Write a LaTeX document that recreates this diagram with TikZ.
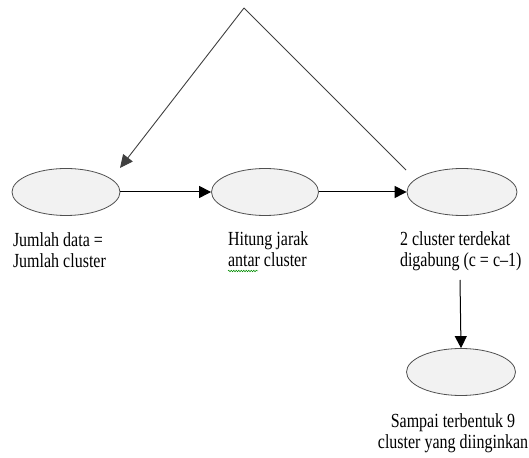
\documentclass[tikz,border=0pt]{standalone}
\usepackage{fontspec}
\usepackage{graphicx}
\setmainfont{Liberation Serif}
\usetikzlibrary{arrows.meta,decorations.pathmorphing,shapes.geometric}
\definecolor{ellfill}{HTML}{F2F2F2}
\definecolor{ellline}{HTML}{505050}
\definecolor{diagline}{HTML}{404040}
\newcommand{\lbltxt}[2]{\scalebox{0.8}[1]{\fontsize{20}{21}\selectfont\begin{tabular}[t]{@{}#1@{}}#2\end{tabular}}}
\begin{document}
\begin{tikzpicture}[x=1pt,y=1pt,
  stepell/.style={ellipse,draw=ellline,fill=ellfill,line width=0.8pt,minimum width=108pt,minimum height=47pt,inner sep=0pt},
  flowarr/.style={-{Triangle[length=12pt,width=12pt]},line width=1pt,black},
  backline/.style={line width=0.9pt,diagline},
  lbl/.style={inner sep=0pt,outer sep=0pt,font=\fontsize{20}{21}\selectfont}]
\useasboundingbox (0,0) rectangle (529,457);
\node[stepell] (e1) at (66,265) {};
\node[stepell,minimum width=107pt] (e2) at (265,265) {};
\node[stepell,minimum width=110pt] (e3) at (462,265) {};
\node[stepell,minimum width=109pt] (e4) at (461,85) {};
\coordinate (apex) at (244,449);
\coordinate (rightend) at (406,287);
\coordinate (lefttip) at (120,289);
\coordinate (downstart) at (460,177);
\draw[flowarr] (e1.east) -- (e2.west);
\draw[flowarr] (e2.east) -- (e3.west);
\draw[flowarr] (downstart) -- (e4.north);
\draw[backline] (rightend) -- (apex);
\draw[backline,-{Triangle[length=13pt,width=12pt]}] (apex) -- (lefttip);
\node[lbl,anchor=base west] (t1) at (13,210) {\lbltxt{l}{Jumlah data =\\Jumlah cluster}};
\node[lbl,anchor=base west] (t2) at (228,211) {\lbltxt{l}{Hitung jarak\\antar cluster}};
\node[lbl,anchor=base west] (t3) at (400,211) {\lbltxt{l}{2 cluster terdekat\\digabung (c = c\textendash 1)}};
\node[lbl,anchor=base] (t4) at (453,29) {\lbltxt{c}{Sampai terbentuk 9\\cluster yang diinginkan}};
\draw[green!55!black,line width=0.5pt,decorate,decoration={snake,amplitude=0.8pt,segment length=2.5pt}] (228,186) -- (258,186);
\end{tikzpicture}
\end{document}
